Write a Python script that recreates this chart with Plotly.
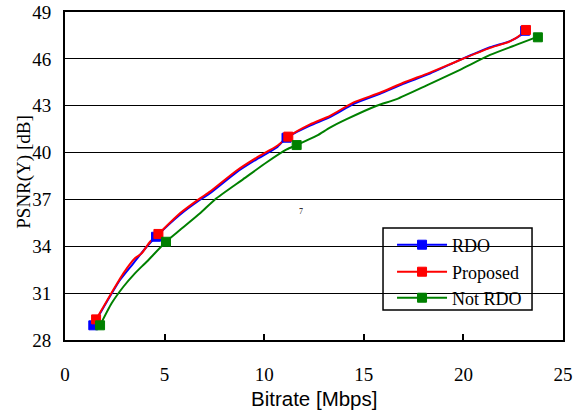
import plotly.graph_objects as go

# curve points (lines)
rdo_line_x = [1.42, 2.76, 3.43, 4.10, 4.57, 5.77, 6.78, 7.28, 8.62, 9.62, 10.63, 11.12,
              12.30, 13.30, 14.47, 15.81, 16.98, 18.32, 19.83, 21.34, 22.34, 22.93, 23.10]
rdo_line_y = [28.94, 31.84, 32.91, 33.97, 34.61, 36.02, 36.98, 37.40, 38.75, 39.57, 40.32, 40.95,
              41.72, 42.27, 43.10, 43.76, 44.40, 45.06, 45.93, 46.74, 47.14, 47.56, 47.80]
prop_line_x = [1.56, 2.42, 2.93, 3.51, 3.85, 4.27, 4.69, 5.77, 6.78, 7.28, 8.62, 9.62, 10.63, 11.21,
               12.30, 13.30, 14.47, 15.81, 16.98, 18.32, 19.83, 21.34, 22.34, 22.93, 23.14]
prop_line_y = [29.32, 31.20, 32.27, 33.23, 33.55, 34.29, 34.79, 36.11, 37.07, 37.50, 38.85, 39.68, 40.42, 41.02,
               41.80, 42.35, 43.20, 43.83, 44.47, 45.12, 45.93, 46.70, 47.12, 47.59, 47.85]
notrdo_line_x = [1.76, 2.34, 2.93, 3.51, 4.10, 5.07, 5.77, 6.78, 7.53, 8.95, 10.13, 11.13, 11.63,
                 12.64, 13.30, 14.14, 15.65, 16.65, 18.16, 19.83, 21.34, 22.68, 23.74]
notrdo_line_y = [28.94, 30.35, 31.41, 32.27, 33.01, 34.29, 35.04, 36.11, 37.00, 38.30, 39.38, 40.20, 40.48,
                 41.08, 41.60, 42.14, 43.00, 43.42, 44.30, 45.30, 46.25, 46.91, 47.42]

# measured (marker) points
rdo_x = [1.42, 4.57, 11.12, 23.10]
rdo_y = [28.94, 34.61, 40.95, 47.80]
prop_x = [1.56, 4.69, 11.21, 23.14]
prop_y = [29.32, 34.79, 41.02, 47.85]
notrdo_x = [1.76, 5.07, 11.63, 23.74]
notrdo_y = [28.94, 34.29, 40.48, 47.38]

x_ticks = [0, 5, 10, 15, 20, 25]
y_ticks = [28, 31, 34, 37, 40, 43, 46, 49]

series = [
    ("RDO", rdo_line_x, rdo_line_y, rdo_x, rdo_y, "#0000ff", "legend", 0.2896),
    ("Proposed", prop_line_x, prop_line_y, prop_x, prop_y, "#ff0000", "legend2", 0.2073),
    ("Not RDO", notrdo_line_x, notrdo_line_y, notrdo_x, notrdo_y, "#008000", "legend3", 0.128),
]

serif = "Liberation Serif, Times New Roman, serif"
sans = "Liberation Sans, Arial, sans-serif"

fig = go.Figure()
legends = {}
for name, lx, ly, mx, my, col, leg, ly_pos in series:
    fig.add_trace(go.Scatter(x=lx, y=ly, mode="lines", showlegend=False,
                             line=dict(color=col, width=2, shape="spline", smoothing=0.6),
                             hoverinfo="skip"))
for name, lx, ly, mx, my, col, leg, ly_pos in series:
    fig.add_trace(go.Scatter(x=mx, y=my, mode="markers", showlegend=False, name=name,
                             marker=dict(symbol="square", size=9, color=col,
                                         line=dict(color=col, width=1))))
for name, lx, ly, mx, my, col, leg, ly_pos in series:
    fig.add_trace(go.Scatter(x=[None], y=[None], mode="lines+markers", name=name,
                             legend=leg, showlegend=True,
                             line=dict(color=col, width=2),
                             marker=dict(symbol="square", size=9, color=col,
                                         line=dict(color=col, width=1))))
    legends[leg] = dict(x=0.6567, y=ly_pos, xanchor="left", yanchor="middle",
                        bgcolor="rgba(0,0,0,0)", borderwidth=0, itemwidth=50,
                        font=dict(family=serif, size=18, color="black"))

fig.update_layout(
    width=583, height=412,
    margin=dict(l=65, r=20, t=12, b=72),
    paper_bgcolor="white", plot_bgcolor="white",
    font=dict(family=serif, size=19, color="black"),
    xaxis=dict(
        range=[0, 25], tickvals=x_ticks, ticktext=[str(v) for v in x_ticks],
        showgrid=False, zeroline=False, automargin=False,
        showline=True, linecolor="black", linewidth=2, mirror=True,
        ticks="inside", ticklen=6, tickcolor="black", tickwidth=1.5,
        ticklabelstandoff=16,
        tickfont=dict(family=serif, size=19),
    ),
    yaxis=dict(
        range=[28, 49], tickvals=y_ticks, ticktext=[str(v) for v in y_ticks],
        showgrid=True, gridcolor="black", gridwidth=1.2, zeroline=False,
        automargin=False,
        showline=True, linecolor="black", linewidth=2, mirror=True,
        ticks="", ticklabelstandoff=8,
        tickfont=dict(family=serif, size=19),
    ),
    **legends,
)

# legend frame (white box hiding gridlines)
fig.add_shape(type="rect", xref="paper", yref="paper",
              x0=0.6386, x1=0.9378, y0=0.0915, y1=0.3415,
              fillcolor="white", line=dict(color="black", width=1.5), layer="between")

fig.add_annotation(x=0.5, y=-0.177, xref="paper", yref="paper", text="Bitrate [Mbps]",
                   showarrow=False, yanchor="middle",
                   font=dict(family=sans, size=20.5))
fig.add_annotation(x=-0.0823, y=0.51, xref="paper", yref="paper", text="PSNR(Y) [dB]",
                   showarrow=False, textangle=-90, xanchor="center", yanchor="middle",
                   font=dict(family=serif, size=19))
fig.add_annotation(x=11.85, y=36.2, xref="x", yref="y", text="7",
                   showarrow=False, font=dict(family=serif, size=8))

fig.write_html("out.html", config={"displayModeBar": False},
               post_script="document.body.style.margin='0px';")
